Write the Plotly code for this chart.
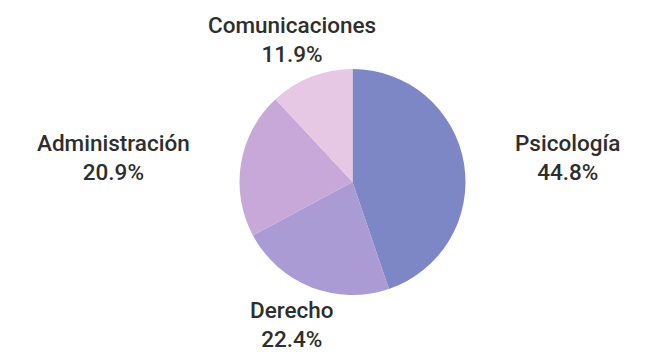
import math
import plotly.graph_objects as go

# Students per programme
carreras = ["Psicología", "Derecho", "Administración", "Comunicaciones"]
estudiantes = [30, 15, 14, 8]
colores = ["#7e87c6", "#aa9bd4", "#c8a8d8", "#e6c7e4"]

W, H = 646, 355
cx, cy, r = 352.5, 182.0, 113      # pie centre and radius in pixels
label_rx, label_ry = 164, 153      # distance of the label anchors from the centre

fig = go.Figure(
    go.Pie(
        labels=carreras,
        values=estudiantes,
        marker=dict(colors=colores, line=dict(width=0)),
        sort=False,
        direction="clockwise",
        rotation=0,
        textinfo="none",
        hoverinfo="label+percent",
        showlegend=False,
        domain=dict(
            x=[(cx - r) / W, (cx + r) / W],
            y=[(H - cy - r) / H, (H - cy + r) / H],
        ),
    )
)

# Outside labels placed along each slice's mid-angle
total = sum(estudiantes)
acum = 0
annotations = []
for nombre, v in zip(carreras, estudiantes):
    frac = v / total
    mid = (acum + frac / 2) * 2 * math.pi
    acum += frac
    s, c = math.sin(mid), math.cos(mid)
    px = cx + label_rx * s
    py = cy - label_ry * c
    if s > 0.7:
        xa = "left"
    elif s < -0.7:
        xa = "right"
    else:
        xa = "center"
    annotations.append(
        dict(
            x=px / W,
            y=1 - py / H,
            xref="paper",
            yref="paper",
            xanchor=xa,
            yanchor="middle",
            borderpad=0,
            text=f"{nombre}<br>{frac * 100:.1f}%",
            showarrow=False,
            align="center",
            font=dict(family="Roboto", size=22.5, color="#2e2e2e", weight=500),
        )
    )

fig.update_layout(
    width=W,
    height=H,
    autosize=False,
    margin=dict(l=0, r=0, t=0, b=0),
    paper_bgcolor="white",
    plot_bgcolor="white",
    annotations=annotations,
)

fig.write_html("out.html")
